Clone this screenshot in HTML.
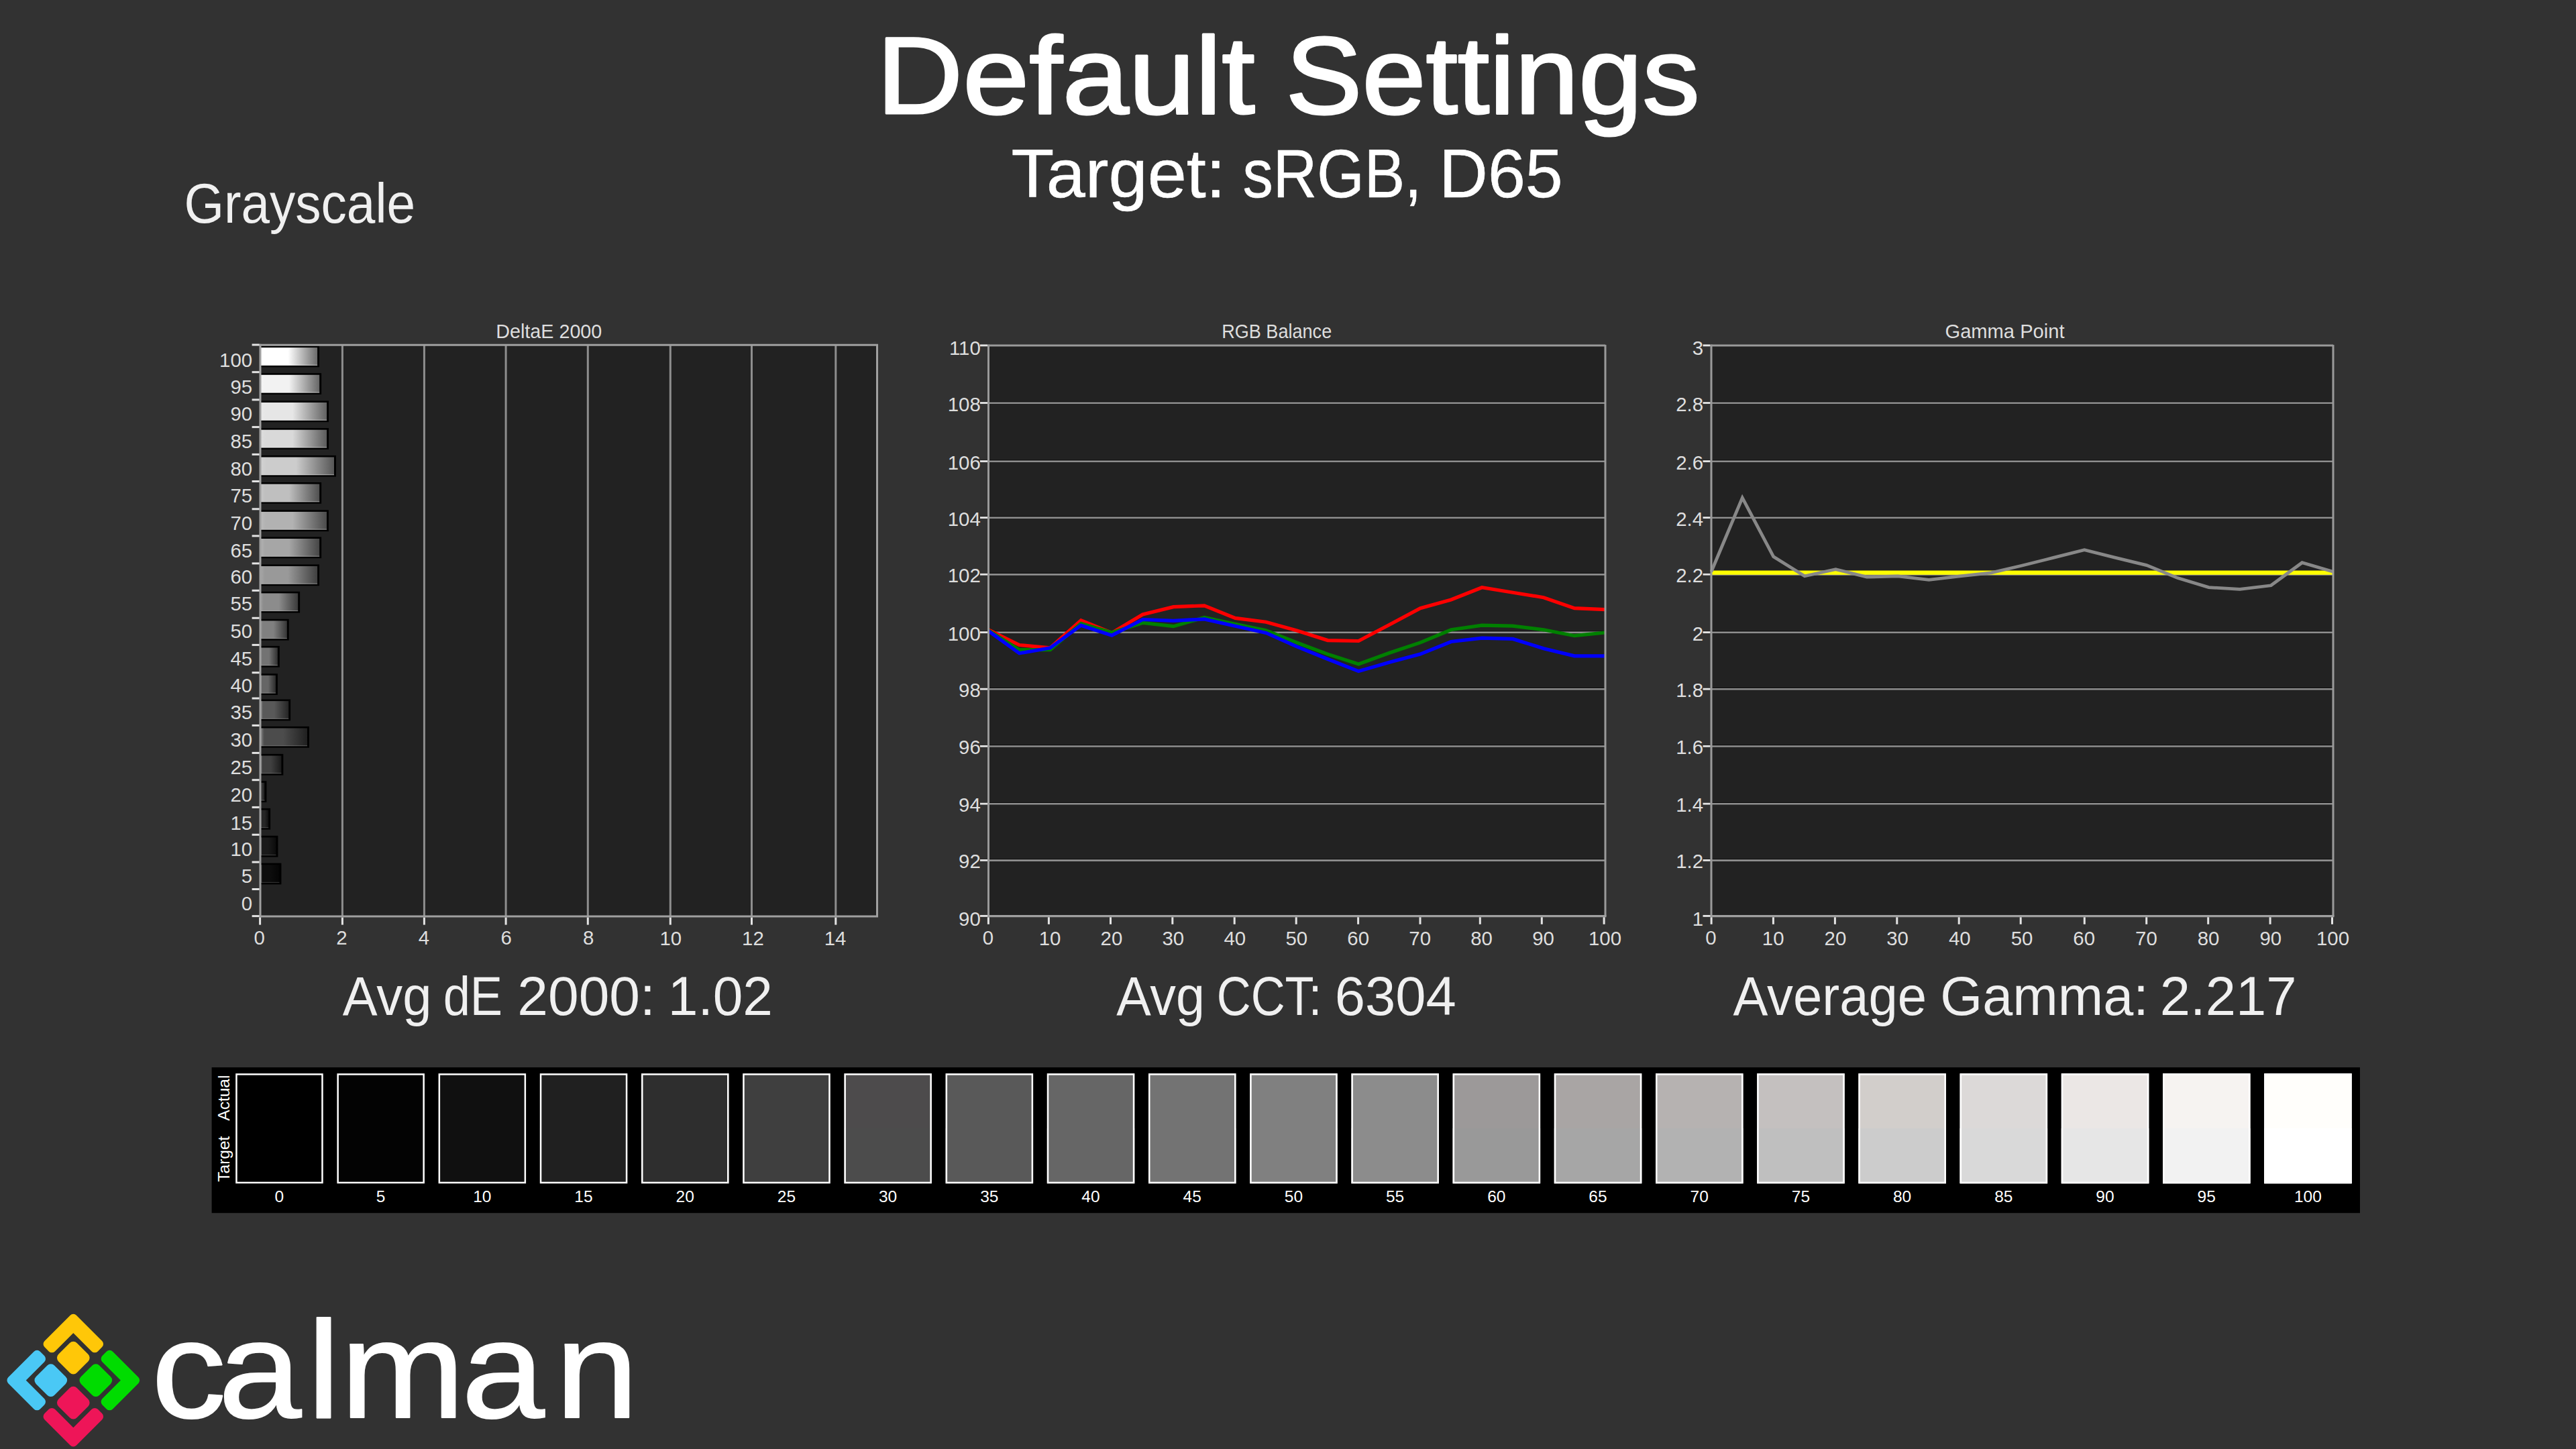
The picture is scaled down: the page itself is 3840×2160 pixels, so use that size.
<!DOCTYPE html>
<html lang="en"><head><meta charset="utf-8"><title>Default Settings - Grayscale</title>
<style>html,body{margin:0;padding:0;background:#323232;overflow:hidden}svg{display:block}text{font-family:"Liberation Sans",sans-serif}</style>
</head><body>
<svg width="3840" height="2160" viewBox="0 0 3840 2160">
<rect width="3840" height="2160" fill="#323232"/>
<g id="titles">
<text y="168.6" font-size="163.2" fill="#ffffff" stroke="#ffffff" stroke-width="3.0" stroke-linejoin="round"><tspan x="1306.70" textLength="563.90" lengthAdjust="spacingAndGlyphs">Default</tspan> <tspan x="1916.55" textLength="617.02" lengthAdjust="spacingAndGlyphs">Settings</tspan></text>
<text y="293.6" font-size="102.9" fill="#ffffff" stroke="#ffffff" stroke-width="0.6" stroke-linejoin="round"><tspan x="1507.55" textLength="319.18" lengthAdjust="spacingAndGlyphs">Target:</tspan> <tspan x="1852.58" textLength="266.66" lengthAdjust="spacingAndGlyphs">sRGB,</tspan> <tspan x="2145.36" textLength="184.26" lengthAdjust="spacingAndGlyphs">D65</tspan></text>
<text y="332.3" font-size="83.3" fill="#f0f0f0"><tspan x="274.45" textLength="344.55" lengthAdjust="spacingAndGlyphs">Grayscale</tspan></text>
</g>
<g id="chart-deltae">
<text x="818.3" y="504.3" font-size="30" text-anchor="middle" textLength="158.0" lengthAdjust="spacingAndGlyphs" fill="#dedede">DeltaE 2000</text>
<rect x="388.00" y="514.20" width="919.50" height="851.90" fill="#222222"/>
<line x1="510.40" y1="514.20" x2="510.40" y2="1366.10" stroke="#8e8e8e" stroke-width="3"/>
<line x1="632.40" y1="514.20" x2="632.40" y2="1366.10" stroke="#8e8e8e" stroke-width="3"/>
<line x1="754.10" y1="514.20" x2="754.10" y2="1366.10" stroke="#8e8e8e" stroke-width="3"/>
<line x1="876.30" y1="514.20" x2="876.30" y2="1366.10" stroke="#8e8e8e" stroke-width="3"/>
<line x1="999.30" y1="514.20" x2="999.30" y2="1366.10" stroke="#8e8e8e" stroke-width="3"/>
<line x1="1120.50" y1="514.20" x2="1120.50" y2="1366.10" stroke="#8e8e8e" stroke-width="3"/>
<line x1="1245.80" y1="514.20" x2="1245.80" y2="1366.10" stroke="#8e8e8e" stroke-width="3"/>
<defs>
<linearGradient id="bg0" x1="0" x2="1" y1="0" y2="0"><stop offset="0" stop-color="#4c4c4c"/><stop offset="0.07" stop-color="#000000"/><stop offset="0.48" stop-color="#000000"/><stop offset="1" stop-color="#000000"/></linearGradient>
<linearGradient id="bg5" x1="0" x2="1" y1="0" y2="0"><stop offset="0" stop-color="#565656"/><stop offset="0.07" stop-color="#0d0d0d"/><stop offset="0.48" stop-color="#0d0d0d"/><stop offset="1" stop-color="#050505"/></linearGradient>
<linearGradient id="bg10" x1="0" x2="1" y1="0" y2="0"><stop offset="0" stop-color="#5f5f5f"/><stop offset="0.07" stop-color="#1a1a1a"/><stop offset="0.48" stop-color="#1a1a1a"/><stop offset="1" stop-color="#0b0b0b"/></linearGradient>
<linearGradient id="bg15" x1="0" x2="1" y1="0" y2="0"><stop offset="0" stop-color="#676767"/><stop offset="0.07" stop-color="#262626"/><stop offset="0.48" stop-color="#262626"/><stop offset="1" stop-color="#101010"/></linearGradient>
<linearGradient id="bg20" x1="0" x2="1" y1="0" y2="0"><stop offset="0" stop-color="#707070"/><stop offset="0.07" stop-color="#333333"/><stop offset="0.48" stop-color="#333333"/><stop offset="1" stop-color="#151515"/></linearGradient>
<linearGradient id="bg25" x1="0" x2="1" y1="0" y2="0"><stop offset="0" stop-color="#797979"/><stop offset="0.07" stop-color="#404040"/><stop offset="0.48" stop-color="#404040"/><stop offset="1" stop-color="#1b1b1b"/></linearGradient>
<linearGradient id="bg30" x1="0" x2="1" y1="0" y2="0"><stop offset="0" stop-color="#828282"/><stop offset="0.07" stop-color="#4c4c4c"/><stop offset="0.48" stop-color="#4c4c4c"/><stop offset="1" stop-color="#202020"/></linearGradient>
<linearGradient id="bg35" x1="0" x2="1" y1="0" y2="0"><stop offset="0" stop-color="#8b8b8b"/><stop offset="0.07" stop-color="#595959"/><stop offset="0.48" stop-color="#595959"/><stop offset="1" stop-color="#252525"/></linearGradient>
<linearGradient id="bg40" x1="0" x2="1" y1="0" y2="0"><stop offset="0" stop-color="#949494"/><stop offset="0.07" stop-color="#666666"/><stop offset="0.48" stop-color="#666666"/><stop offset="1" stop-color="#2b2b2b"/></linearGradient>
<linearGradient id="bg45" x1="0" x2="1" y1="0" y2="0"><stop offset="0" stop-color="#848484"/><stop offset="0.07" stop-color="#737373"/><stop offset="0.48" stop-color="#737373"/><stop offset="1" stop-color="#303030"/></linearGradient>
<linearGradient id="bg50" x1="0" x2="1" y1="0" y2="0"><stop offset="0" stop-color="#8f8f8f"/><stop offset="0.07" stop-color="#808080"/><stop offset="0.48" stop-color="#808080"/><stop offset="1" stop-color="#363636"/></linearGradient>
<linearGradient id="bg55" x1="0" x2="1" y1="0" y2="0"><stop offset="0" stop-color="#9a9a9a"/><stop offset="0.07" stop-color="#8c8c8c"/><stop offset="0.48" stop-color="#8c8c8c"/><stop offset="1" stop-color="#3b3b3b"/></linearGradient>
<linearGradient id="bg60" x1="0" x2="1" y1="0" y2="0"><stop offset="0" stop-color="#a5a5a5"/><stop offset="0.07" stop-color="#999999"/><stop offset="0.48" stop-color="#999999"/><stop offset="1" stop-color="#404040"/></linearGradient>
<linearGradient id="bg65" x1="0" x2="1" y1="0" y2="0"><stop offset="0" stop-color="#b1b1b1"/><stop offset="0.07" stop-color="#a6a6a6"/><stop offset="0.48" stop-color="#a6a6a6"/><stop offset="1" stop-color="#464646"/></linearGradient>
<linearGradient id="bg70" x1="0" x2="1" y1="0" y2="0"><stop offset="0" stop-color="#bbbbbb"/><stop offset="0.07" stop-color="#b2b2b2"/><stop offset="0.48" stop-color="#b2b2b2"/><stop offset="1" stop-color="#4b4b4b"/></linearGradient>
<linearGradient id="bg75" x1="0" x2="1" y1="0" y2="0"><stop offset="0" stop-color="#c7c7c7"/><stop offset="0.07" stop-color="#bfbfbf"/><stop offset="0.48" stop-color="#bfbfbf"/><stop offset="1" stop-color="#505050"/></linearGradient>
<linearGradient id="bg80" x1="0" x2="1" y1="0" y2="0"><stop offset="0" stop-color="#d2d2d2"/><stop offset="0.07" stop-color="#cccccc"/><stop offset="0.48" stop-color="#cccccc"/><stop offset="1" stop-color="#565656"/></linearGradient>
<linearGradient id="bg85" x1="0" x2="1" y1="0" y2="0"><stop offset="0" stop-color="#dedede"/><stop offset="0.07" stop-color="#d9d9d9"/><stop offset="0.48" stop-color="#d9d9d9"/><stop offset="1" stop-color="#5b5b5b"/></linearGradient>
<linearGradient id="bg90" x1="0" x2="1" y1="0" y2="0"><stop offset="0" stop-color="#e9e9e9"/><stop offset="0.07" stop-color="#e6e6e6"/><stop offset="0.48" stop-color="#e6e6e6"/><stop offset="1" stop-color="#616161"/></linearGradient>
<linearGradient id="bg95" x1="0" x2="1" y1="0" y2="0"><stop offset="0" stop-color="#f4f4f4"/><stop offset="0.07" stop-color="#f2f2f2"/><stop offset="0.48" stop-color="#f2f2f2"/><stop offset="1" stop-color="#666666"/></linearGradient>
<linearGradient id="bg100" x1="0" x2="1" y1="0" y2="0"><stop offset="0" stop-color="#ffffff"/><stop offset="0.07" stop-color="#ffffff"/><stop offset="0.48" stop-color="#ffffff"/><stop offset="1" stop-color="#6b6b6b"/></linearGradient>
</defs>
<rect x="388.00" y="515.50" width="88.00" height="31.80" fill="#000"/>
<rect x="389.00" y="518.10" width="84.10" height="26.70" fill="url(#bg100)"/>
<rect x="389.00" y="543.80" width="84.10" height="1.00" fill="#ffffff" opacity="0.55"/>
<rect x="388.00" y="556.20" width="91.10" height="31.80" fill="#000"/>
<rect x="389.00" y="558.80" width="87.20" height="26.70" fill="url(#bg95)"/>
<rect x="389.00" y="584.50" width="87.20" height="1.00" fill="#ffffff" opacity="0.55"/>
<rect x="388.00" y="597.40" width="102.00" height="31.80" fill="#000"/>
<rect x="389.00" y="600.00" width="98.10" height="26.70" fill="url(#bg90)"/>
<rect x="389.00" y="625.70" width="98.10" height="1.00" fill="#f7f7f7" opacity="0.55"/>
<rect x="388.00" y="638.10" width="102.00" height="31.80" fill="#000"/>
<rect x="389.00" y="640.70" width="98.10" height="26.70" fill="url(#bg85)"/>
<rect x="389.00" y="666.40" width="98.10" height="1.00" fill="#eeeeee" opacity="0.55"/>
<rect x="388.00" y="678.90" width="112.90" height="31.80" fill="#000"/>
<rect x="389.00" y="681.50" width="109.00" height="26.70" fill="url(#bg80)"/>
<rect x="389.00" y="707.20" width="109.00" height="1.00" fill="#e5e5e5" opacity="0.55"/>
<rect x="388.00" y="719.00" width="91.10" height="31.80" fill="#000"/>
<rect x="389.00" y="721.60" width="87.20" height="26.70" fill="url(#bg75)"/>
<rect x="389.00" y="747.30" width="87.20" height="1.00" fill="#dcdcdc" opacity="0.55"/>
<rect x="388.00" y="760.30" width="101.90" height="31.80" fill="#000"/>
<rect x="389.00" y="762.90" width="98.00" height="26.70" fill="url(#bg70)"/>
<rect x="389.00" y="788.60" width="98.00" height="1.00" fill="#d3d3d3" opacity="0.55"/>
<rect x="388.00" y="800.40" width="91.10" height="31.80" fill="#000"/>
<rect x="389.00" y="803.00" width="87.20" height="26.70" fill="url(#bg65)"/>
<rect x="389.00" y="828.70" width="87.20" height="1.00" fill="#cacaca" opacity="0.55"/>
<rect x="388.00" y="841.40" width="88.00" height="31.80" fill="#000"/>
<rect x="389.00" y="844.00" width="84.10" height="26.70" fill="url(#bg60)"/>
<rect x="389.00" y="869.70" width="84.10" height="1.00" fill="#c1c1c1" opacity="0.55"/>
<rect x="388.00" y="881.80" width="59.10" height="31.80" fill="#000"/>
<rect x="389.00" y="884.40" width="55.20" height="26.70" fill="url(#bg55)"/>
<rect x="389.00" y="910.10" width="55.20" height="1.00" fill="#b8b8b8" opacity="0.55"/>
<rect x="388.00" y="922.80" width="42.70" height="31.80" fill="#000"/>
<rect x="389.00" y="925.40" width="38.80" height="26.70" fill="url(#bg50)"/>
<rect x="389.00" y="951.10" width="38.80" height="1.00" fill="#b0b0b0" opacity="0.55"/>
<rect x="388.00" y="962.90" width="28.80" height="31.80" fill="#000"/>
<rect x="389.00" y="965.50" width="24.90" height="26.70" fill="url(#bg45)"/>
<rect x="389.00" y="991.20" width="24.90" height="1.00" fill="#a7a7a7" opacity="0.55"/>
<rect x="388.00" y="1004.20" width="25.90" height="31.80" fill="#000"/>
<rect x="389.00" y="1006.80" width="22.00" height="26.70" fill="url(#bg40)"/>
<rect x="389.00" y="1032.50" width="22.00" height="1.00" fill="#9d9d9d" opacity="0.55"/>
<rect x="388.00" y="1042.50" width="45.10" height="31.80" fill="#000"/>
<rect x="389.00" y="1045.10" width="41.20" height="26.70" fill="url(#bg35)"/>
<rect x="389.00" y="1070.80" width="41.20" height="1.00" fill="#949494" opacity="0.55"/>
<rect x="388.00" y="1082.90" width="72.90" height="31.80" fill="#000"/>
<rect x="389.00" y="1085.50" width="69.00" height="26.70" fill="url(#bg30)"/>
<rect x="389.00" y="1111.20" width="69.00" height="1.00" fill="#8b8b8b" opacity="0.55"/>
<rect x="388.00" y="1123.90" width="34.30" height="31.80" fill="#000"/>
<rect x="389.00" y="1126.50" width="30.40" height="26.70" fill="url(#bg25)"/>
<rect x="389.00" y="1152.20" width="30.40" height="1.00" fill="#838383" opacity="0.55"/>
<rect x="388.00" y="1164.20" width="9.40" height="31.80" fill="#000"/>
<rect x="389.00" y="1166.80" width="5.50" height="26.70" fill="url(#bg20)"/>
<rect x="389.00" y="1192.50" width="5.50" height="1.00" fill="#7a7a7a" opacity="0.55"/>
<rect x="388.00" y="1204.90" width="15.10" height="31.80" fill="#000"/>
<rect x="389.00" y="1207.50" width="11.20" height="26.70" fill="url(#bg15)"/>
<rect x="389.00" y="1233.20" width="11.20" height="1.00" fill="#717171" opacity="0.55"/>
<rect x="388.00" y="1245.80" width="26.40" height="31.80" fill="#000"/>
<rect x="389.00" y="1248.40" width="22.50" height="26.70" fill="url(#bg10)"/>
<rect x="389.00" y="1274.10" width="22.50" height="1.00" fill="#686868" opacity="0.55"/>
<rect x="388.00" y="1286.60" width="31.40" height="31.80" fill="#000"/>
<rect x="389.00" y="1289.20" width="27.50" height="26.70" fill="url(#bg5)"/>
<rect x="389.00" y="1314.90" width="27.50" height="1.00" fill="#5f5f5f" opacity="0.55"/>
<line x1="386.50" y1="514.20" x2="1309.00" y2="514.20" stroke="#a0a0a0" stroke-width="3"/>
<line x1="1307.50" y1="514.20" x2="1307.50" y2="1366.10" stroke="#a0a0a0" stroke-width="3"/>
<line x1="388.00" y1="512.70" x2="388.00" y2="1367.60" stroke="#a0a0a0" stroke-width="3"/>
<line x1="386.50" y1="1366.10" x2="1309.00" y2="1366.10" stroke="#a0a0a0" stroke-width="3"/>
<line x1="375.60" y1="514.00" x2="386.60" y2="514.00" stroke="#e4e4e4" stroke-width="3"/>
<line x1="375.60" y1="554.70" x2="386.60" y2="554.70" stroke="#e4e4e4" stroke-width="3"/>
<line x1="375.60" y1="595.90" x2="386.60" y2="595.90" stroke="#e4e4e4" stroke-width="3"/>
<line x1="375.60" y1="636.60" x2="386.60" y2="636.60" stroke="#e4e4e4" stroke-width="3"/>
<line x1="375.60" y1="677.40" x2="386.60" y2="677.40" stroke="#e4e4e4" stroke-width="3"/>
<line x1="375.60" y1="717.50" x2="386.60" y2="717.50" stroke="#e4e4e4" stroke-width="3"/>
<line x1="375.60" y1="758.80" x2="386.60" y2="758.80" stroke="#e4e4e4" stroke-width="3"/>
<line x1="375.60" y1="798.90" x2="386.60" y2="798.90" stroke="#e4e4e4" stroke-width="3"/>
<line x1="375.60" y1="839.90" x2="386.60" y2="839.90" stroke="#e4e4e4" stroke-width="3"/>
<line x1="375.60" y1="880.30" x2="386.60" y2="880.30" stroke="#e4e4e4" stroke-width="3"/>
<line x1="375.60" y1="921.30" x2="386.60" y2="921.30" stroke="#e4e4e4" stroke-width="3"/>
<line x1="375.60" y1="961.40" x2="386.60" y2="961.40" stroke="#e4e4e4" stroke-width="3"/>
<line x1="375.60" y1="1002.70" x2="386.60" y2="1002.70" stroke="#e4e4e4" stroke-width="3"/>
<line x1="375.60" y1="1041.00" x2="386.60" y2="1041.00" stroke="#e4e4e4" stroke-width="3"/>
<line x1="375.60" y1="1081.40" x2="386.60" y2="1081.40" stroke="#e4e4e4" stroke-width="3"/>
<line x1="375.60" y1="1122.40" x2="386.60" y2="1122.40" stroke="#e4e4e4" stroke-width="3"/>
<line x1="375.60" y1="1162.70" x2="386.60" y2="1162.70" stroke="#e4e4e4" stroke-width="3"/>
<line x1="375.60" y1="1203.40" x2="386.60" y2="1203.40" stroke="#e4e4e4" stroke-width="3"/>
<line x1="375.60" y1="1244.30" x2="386.60" y2="1244.30" stroke="#e4e4e4" stroke-width="3"/>
<line x1="375.60" y1="1285.10" x2="386.60" y2="1285.10" stroke="#e4e4e4" stroke-width="3"/>
<line x1="375.60" y1="1325.50" x2="386.60" y2="1325.50" stroke="#e4e4e4" stroke-width="3"/>
<line x1="375.60" y1="1365.60" x2="386.60" y2="1365.60" stroke="#e4e4e4" stroke-width="3"/>
<text x="376.2" y="546.9" font-size="30" text-anchor="end" textLength="49.1" lengthAdjust="spacingAndGlyphs" fill="#dedede">100</text>
<text x="376.2" y="587.1" font-size="30" text-anchor="end" textLength="32.7" lengthAdjust="spacingAndGlyphs" fill="#dedede">95</text>
<text x="376.2" y="627.3" font-size="30" text-anchor="end" textLength="32.7" lengthAdjust="spacingAndGlyphs" fill="#dedede">90</text>
<text x="376.2" y="668.0" font-size="30" text-anchor="end" textLength="32.7" lengthAdjust="spacingAndGlyphs" fill="#dedede">85</text>
<text x="376.2" y="709.3" font-size="30" text-anchor="end" textLength="32.7" lengthAdjust="spacingAndGlyphs" fill="#dedede">80</text>
<text x="376.2" y="748.9" font-size="30" text-anchor="end" textLength="32.7" lengthAdjust="spacingAndGlyphs" fill="#dedede">75</text>
<text x="376.2" y="790.2" font-size="30" text-anchor="end" textLength="32.7" lengthAdjust="spacingAndGlyphs" fill="#dedede">70</text>
<text x="376.2" y="830.8" font-size="30" text-anchor="end" textLength="32.7" lengthAdjust="spacingAndGlyphs" fill="#dedede">65</text>
<text x="376.2" y="869.7" font-size="30" text-anchor="end" textLength="32.7" lengthAdjust="spacingAndGlyphs" fill="#dedede">60</text>
<text x="376.2" y="910.4" font-size="30" text-anchor="end" textLength="32.7" lengthAdjust="spacingAndGlyphs" fill="#dedede">55</text>
<text x="376.2" y="951.1" font-size="30" text-anchor="end" textLength="32.7" lengthAdjust="spacingAndGlyphs" fill="#dedede">50</text>
<text x="376.2" y="991.6" font-size="30" text-anchor="end" textLength="32.7" lengthAdjust="spacingAndGlyphs" fill="#dedede">45</text>
<text x="376.2" y="1032.1" font-size="30" text-anchor="end" textLength="32.7" lengthAdjust="spacingAndGlyphs" fill="#dedede">40</text>
<text x="376.2" y="1072.0" font-size="30" text-anchor="end" textLength="32.7" lengthAdjust="spacingAndGlyphs" fill="#dedede">35</text>
<text x="376.2" y="1112.8" font-size="30" text-anchor="end" textLength="32.7" lengthAdjust="spacingAndGlyphs" fill="#dedede">30</text>
<text x="376.2" y="1153.8" font-size="30" text-anchor="end" textLength="32.7" lengthAdjust="spacingAndGlyphs" fill="#dedede">25</text>
<text x="376.2" y="1194.7" font-size="30" text-anchor="end" textLength="32.7" lengthAdjust="spacingAndGlyphs" fill="#dedede">20</text>
<text x="376.2" y="1236.5" font-size="30" text-anchor="end" textLength="32.7" lengthAdjust="spacingAndGlyphs" fill="#dedede">15</text>
<text x="376.2" y="1276.1" font-size="30" text-anchor="end" textLength="32.7" lengthAdjust="spacingAndGlyphs" fill="#dedede">10</text>
<text x="376.2" y="1315.7" font-size="30" text-anchor="end" fill="#dedede" transform="translate(376.20,0) scale(0.98,1) translate(-376.20,0)">5</text>
<text x="376.2" y="1356.8" font-size="30" text-anchor="end" fill="#dedede" transform="translate(376.20,0) scale(0.98,1) translate(-376.20,0)">0</text>
<line x1="387.60" y1="1367.60" x2="387.60" y2="1378.60" stroke="#e4e4e4" stroke-width="3"/>
<text x="386.8" y="1408.5" font-size="30" text-anchor="middle" fill="#dedede" transform="translate(386.80,0) scale(0.98,1) translate(-386.80,0)">0</text>
<line x1="510.40" y1="1367.60" x2="510.40" y2="1378.60" stroke="#e4e4e4" stroke-width="3"/>
<text x="509.4" y="1408.5" font-size="30" text-anchor="middle" fill="#dedede" transform="translate(509.40,0) scale(0.98,1) translate(-509.40,0)">2</text>
<line x1="632.40" y1="1367.60" x2="632.40" y2="1378.60" stroke="#e4e4e4" stroke-width="3"/>
<text x="632.0" y="1408.5" font-size="30" text-anchor="middle" fill="#dedede" transform="translate(632.00,0) scale(0.98,1) translate(-632.00,0)">4</text>
<line x1="754.10" y1="1367.60" x2="754.10" y2="1378.60" stroke="#e4e4e4" stroke-width="3"/>
<text x="754.6" y="1408.5" font-size="30" text-anchor="middle" fill="#dedede" transform="translate(754.60,0) scale(0.98,1) translate(-754.60,0)">6</text>
<line x1="876.30" y1="1367.60" x2="876.30" y2="1378.60" stroke="#e4e4e4" stroke-width="3"/>
<text x="877.2" y="1408.5" font-size="30" text-anchor="middle" fill="#dedede" transform="translate(877.20,0) scale(0.98,1) translate(-877.20,0)">8</text>
<line x1="999.30" y1="1367.60" x2="999.30" y2="1378.60" stroke="#e4e4e4" stroke-width="3"/>
<text x="999.8" y="1408.5" font-size="30" text-anchor="middle" textLength="32.7" lengthAdjust="spacingAndGlyphs" fill="#dedede">10</text>
<line x1="1120.50" y1="1367.60" x2="1120.50" y2="1378.60" stroke="#e4e4e4" stroke-width="3"/>
<text x="1122.4" y="1408.5" font-size="30" text-anchor="middle" textLength="32.7" lengthAdjust="spacingAndGlyphs" fill="#dedede">12</text>
<line x1="1245.80" y1="1367.60" x2="1245.80" y2="1378.60" stroke="#e4e4e4" stroke-width="3"/>
<text x="1245.0" y="1408.5" font-size="30" text-anchor="middle" textLength="32.7" lengthAdjust="spacingAndGlyphs" fill="#dedede">14</text>
</g>
<g id="chart-rgb">
<text x="1903.2" y="504.3" font-size="30" text-anchor="middle" textLength="164.0" lengthAdjust="spacingAndGlyphs" fill="#dedede">RGB Balance</text>
<rect x="1473.50" y="515.10" width="919.50" height="850.50" fill="#222222"/>
<line x1="1473.50" y1="515.10" x2="2393.00" y2="515.10" stroke="#9a9a9a" stroke-width="3"/>
<line x1="1461.50" y1="598.95" x2="2393.00" y2="598.95" stroke="#0b0b0b" stroke-width="0.9"/>
<line x1="1473.50" y1="600.80" x2="2393.00" y2="600.80" stroke="#8e8e8e" stroke-width="2.6"/>
<line x1="1461.50" y1="685.95" x2="2393.00" y2="685.95" stroke="#0b0b0b" stroke-width="0.9"/>
<line x1="1473.50" y1="687.80" x2="2393.00" y2="687.80" stroke="#8e8e8e" stroke-width="2.6"/>
<line x1="1461.50" y1="769.95" x2="2393.00" y2="769.95" stroke="#0b0b0b" stroke-width="0.9"/>
<line x1="1473.50" y1="771.80" x2="2393.00" y2="771.80" stroke="#8e8e8e" stroke-width="2.6"/>
<line x1="1461.50" y1="854.55" x2="2393.00" y2="854.55" stroke="#0b0b0b" stroke-width="0.9"/>
<line x1="1473.50" y1="856.40" x2="2393.00" y2="856.40" stroke="#8e8e8e" stroke-width="2.6"/>
<line x1="1461.50" y1="940.95" x2="2393.00" y2="940.95" stroke="#0b0b0b" stroke-width="0.9"/>
<line x1="1473.50" y1="942.80" x2="2393.00" y2="942.80" stroke="#8e8e8e" stroke-width="2.6"/>
<line x1="1461.50" y1="1025.45" x2="2393.00" y2="1025.45" stroke="#0b0b0b" stroke-width="0.9"/>
<line x1="1473.50" y1="1027.30" x2="2393.00" y2="1027.30" stroke="#8e8e8e" stroke-width="2.6"/>
<line x1="1461.50" y1="1110.65" x2="2393.00" y2="1110.65" stroke="#0b0b0b" stroke-width="0.9"/>
<line x1="1473.50" y1="1112.50" x2="2393.00" y2="1112.50" stroke="#8e8e8e" stroke-width="2.6"/>
<line x1="1461.50" y1="1196.45" x2="2393.00" y2="1196.45" stroke="#0b0b0b" stroke-width="0.9"/>
<line x1="1473.50" y1="1198.30" x2="2393.00" y2="1198.30" stroke="#8e8e8e" stroke-width="2.6"/>
<line x1="1461.50" y1="1280.75" x2="2393.00" y2="1280.75" stroke="#0b0b0b" stroke-width="0.9"/>
<line x1="1473.50" y1="1282.60" x2="2393.00" y2="1282.60" stroke="#8e8e8e" stroke-width="2.6"/>
<clipPath id="cp2"><rect x="1471.5" y="515.1" width="922.5" height="850.4999999999999"/></clipPath><g clip-path="url(#cp2)">
<polyline points="1473.5,938.8 1519.5,961.5 1565.5,965.8 1611.4,924.8 1657.4,943.4 1703.4,916.0 1749.3,904.7 1795.3,902.8 1841.3,921.4 1887.3,927.2 1933.2,940.0 1979.2,954.6 2025.2,955.5 2071.2,931.3 2117.2,906.7 2163.1,894.0 2209.1,875.8 2255.1,883.2 2301.1,890.7 2347.0,906.7 2393.0,908.6" fill="none" stroke="#ff0000" stroke-width="5.2" stroke-linejoin="miter" stroke-linecap="butt"/>
<polyline points="1473.5,939.7 1519.5,968.6 1565.5,968.6 1611.4,929.4 1657.4,943.0 1703.4,928.5 1749.3,933.7 1795.3,920.5 1841.3,930.4 1887.3,939.7 1933.2,958.0 1979.2,975.1 2025.2,990.0 2071.2,973.2 2117.2,957.9 2163.1,938.8 2209.1,932.2 2255.1,933.2 2301.1,938.8 2347.0,947.7 2393.0,943.0" fill="none" stroke="#008000" stroke-width="5.2" stroke-linejoin="miter" stroke-linecap="butt"/>
<polyline points="1473.5,940.6 1519.5,973.8 1565.5,965.8 1611.4,932.2 1657.4,947.1 1703.4,923.5 1749.3,925.3 1795.3,922.9 1841.3,933.2 1887.3,943.4 1933.2,963.8 1979.2,982.5 2025.2,1000.6 2071.2,987.2 2117.2,975.1 2163.1,956.5 2209.1,951.2 2255.1,952.4 2301.1,966.7 2347.0,977.9 2393.0,977.9" fill="none" stroke="#0000ff" stroke-width="5.2" stroke-linejoin="miter" stroke-linecap="butt"/>
</g>
<line x1="2393.00" y1="514.10" x2="2393.00" y2="1365.60" stroke="#9a9a9a" stroke-width="3"/>
<line x1="1473.50" y1="513.60" x2="1473.50" y2="1367.10" stroke="#9a9a9a" stroke-width="3"/>
<line x1="1472.00" y1="1365.60" x2="2394.50" y2="1365.60" stroke="#a0a0a0" stroke-width="3.4"/>
<line x1="1461.00" y1="514.90" x2="1472.00" y2="514.90" stroke="#e4e4e4" stroke-width="2.9"/>
<text x="1461.8" y="528.7" font-size="30" text-anchor="end" textLength="46.9" lengthAdjust="spacingAndGlyphs" fill="#dedede">110</text>
<line x1="1461.00" y1="600.60" x2="1472.00" y2="600.60" stroke="#e4e4e4" stroke-width="2.9"/>
<text x="1461.8" y="612.6" font-size="30" text-anchor="end" textLength="49.1" lengthAdjust="spacingAndGlyphs" fill="#dedede">108</text>
<line x1="1461.00" y1="687.60" x2="1472.00" y2="687.60" stroke="#e4e4e4" stroke-width="2.9"/>
<text x="1461.8" y="699.6" font-size="30" text-anchor="end" textLength="49.1" lengthAdjust="spacingAndGlyphs" fill="#dedede">106</text>
<line x1="1461.00" y1="771.60" x2="1472.00" y2="771.60" stroke="#e4e4e4" stroke-width="2.9"/>
<text x="1461.8" y="783.6" font-size="30" text-anchor="end" textLength="49.1" lengthAdjust="spacingAndGlyphs" fill="#dedede">104</text>
<line x1="1461.00" y1="856.20" x2="1472.00" y2="856.20" stroke="#e4e4e4" stroke-width="2.9"/>
<text x="1461.8" y="868.2" font-size="30" text-anchor="end" textLength="49.1" lengthAdjust="spacingAndGlyphs" fill="#dedede">102</text>
<line x1="1461.00" y1="942.60" x2="1472.00" y2="942.60" stroke="#e4e4e4" stroke-width="2.9"/>
<text x="1461.8" y="954.6" font-size="30" text-anchor="end" textLength="49.1" lengthAdjust="spacingAndGlyphs" fill="#dedede">100</text>
<line x1="1461.00" y1="1027.10" x2="1472.00" y2="1027.10" stroke="#e4e4e4" stroke-width="2.9"/>
<text x="1461.8" y="1039.1" font-size="30" text-anchor="end" textLength="32.7" lengthAdjust="spacingAndGlyphs" fill="#dedede">98</text>
<line x1="1461.00" y1="1112.30" x2="1472.00" y2="1112.30" stroke="#e4e4e4" stroke-width="2.9"/>
<text x="1461.8" y="1124.3" font-size="30" text-anchor="end" textLength="32.7" lengthAdjust="spacingAndGlyphs" fill="#dedede">96</text>
<line x1="1461.00" y1="1198.10" x2="1472.00" y2="1198.10" stroke="#e4e4e4" stroke-width="2.9"/>
<text x="1461.8" y="1210.1" font-size="30" text-anchor="end" textLength="32.7" lengthAdjust="spacingAndGlyphs" fill="#dedede">94</text>
<line x1="1461.00" y1="1282.40" x2="1472.00" y2="1282.40" stroke="#e4e4e4" stroke-width="2.9"/>
<text x="1461.8" y="1294.4" font-size="30" text-anchor="end" textLength="32.7" lengthAdjust="spacingAndGlyphs" fill="#dedede">92</text>
<line x1="1461.00" y1="1365.40" x2="1472.00" y2="1365.40" stroke="#e4e4e4" stroke-width="2.9"/>
<text x="1461.8" y="1380.2" font-size="30" text-anchor="end" textLength="32.7" lengthAdjust="spacingAndGlyphs" fill="#dedede">90</text>
<line x1="1473.40" y1="1367.30" x2="1473.40" y2="1377.80" stroke="#e4e4e4" stroke-width="3"/>
<text x="1473.0" y="1408.5" font-size="30" text-anchor="middle" fill="#dedede" transform="translate(1473.00,0) scale(0.98,1) translate(-1473.00,0)">0</text>
<line x1="1563.40" y1="1367.30" x2="1563.40" y2="1377.80" stroke="#e4e4e4" stroke-width="3"/>
<text x="1565.0" y="1408.5" font-size="30" text-anchor="middle" textLength="32.7" lengthAdjust="spacingAndGlyphs" fill="#dedede">10</text>
<line x1="1655.50" y1="1367.30" x2="1655.50" y2="1377.80" stroke="#e4e4e4" stroke-width="3"/>
<text x="1656.9" y="1408.5" font-size="30" text-anchor="middle" textLength="32.7" lengthAdjust="spacingAndGlyphs" fill="#dedede">20</text>
<line x1="1747.80" y1="1367.30" x2="1747.80" y2="1377.80" stroke="#e4e4e4" stroke-width="3"/>
<text x="1748.8" y="1408.5" font-size="30" text-anchor="middle" textLength="32.7" lengthAdjust="spacingAndGlyphs" fill="#dedede">30</text>
<line x1="1840.20" y1="1367.30" x2="1840.20" y2="1377.80" stroke="#e4e4e4" stroke-width="3"/>
<text x="1840.8" y="1408.5" font-size="30" text-anchor="middle" textLength="32.7" lengthAdjust="spacingAndGlyphs" fill="#dedede">40</text>
<line x1="1932.20" y1="1367.30" x2="1932.20" y2="1377.80" stroke="#e4e4e4" stroke-width="3"/>
<text x="1932.8" y="1408.5" font-size="30" text-anchor="middle" textLength="32.7" lengthAdjust="spacingAndGlyphs" fill="#dedede">50</text>
<line x1="2024.60" y1="1367.30" x2="2024.60" y2="1377.80" stroke="#e4e4e4" stroke-width="3"/>
<text x="2024.7" y="1408.5" font-size="30" text-anchor="middle" textLength="32.7" lengthAdjust="spacingAndGlyphs" fill="#dedede">60</text>
<line x1="2117.00" y1="1367.30" x2="2117.00" y2="1377.80" stroke="#e4e4e4" stroke-width="3"/>
<text x="2116.7" y="1408.5" font-size="30" text-anchor="middle" textLength="32.7" lengthAdjust="spacingAndGlyphs" fill="#dedede">70</text>
<line x1="2206.30" y1="1367.30" x2="2206.30" y2="1377.80" stroke="#e4e4e4" stroke-width="3"/>
<text x="2208.6" y="1408.5" font-size="30" text-anchor="middle" textLength="32.7" lengthAdjust="spacingAndGlyphs" fill="#dedede">80</text>
<line x1="2298.30" y1="1367.30" x2="2298.30" y2="1377.80" stroke="#e4e4e4" stroke-width="3"/>
<text x="2300.6" y="1408.5" font-size="30" text-anchor="middle" textLength="32.7" lengthAdjust="spacingAndGlyphs" fill="#dedede">90</text>
<line x1="2391.10" y1="1367.30" x2="2391.10" y2="1377.80" stroke="#e4e4e4" stroke-width="3"/>
<text x="2392.5" y="1408.5" font-size="30" text-anchor="middle" textLength="49.1" lengthAdjust="spacingAndGlyphs" fill="#dedede">100</text>
</g>
<g id="chart-gamma">
<text x="2988.5" y="504.3" font-size="30" text-anchor="middle" textLength="178.0" lengthAdjust="spacingAndGlyphs" fill="#dedede">Gamma Point</text>
<rect x="2551.00" y="515.10" width="927.00" height="850.50" fill="#222222"/>
<line x1="2551.00" y1="515.10" x2="3478.00" y2="515.10" stroke="#9a9a9a" stroke-width="3"/>
<line x1="2539.00" y1="598.95" x2="3478.00" y2="598.95" stroke="#0b0b0b" stroke-width="0.9"/>
<line x1="2551.00" y1="600.80" x2="3478.00" y2="600.80" stroke="#8e8e8e" stroke-width="2.6"/>
<line x1="2539.00" y1="685.95" x2="3478.00" y2="685.95" stroke="#0b0b0b" stroke-width="0.9"/>
<line x1="2551.00" y1="687.80" x2="3478.00" y2="687.80" stroke="#8e8e8e" stroke-width="2.6"/>
<line x1="2539.00" y1="769.95" x2="3478.00" y2="769.95" stroke="#0b0b0b" stroke-width="0.9"/>
<line x1="2551.00" y1="771.80" x2="3478.00" y2="771.80" stroke="#8e8e8e" stroke-width="2.6"/>
<line x1="2539.00" y1="854.55" x2="3478.00" y2="854.55" stroke="#0b0b0b" stroke-width="0.9"/>
<line x1="2551.00" y1="856.40" x2="3478.00" y2="856.40" stroke="#8e8e8e" stroke-width="2.6"/>
<line x1="2539.00" y1="940.95" x2="3478.00" y2="940.95" stroke="#0b0b0b" stroke-width="0.9"/>
<line x1="2551.00" y1="942.80" x2="3478.00" y2="942.80" stroke="#8e8e8e" stroke-width="2.6"/>
<line x1="2539.00" y1="1025.45" x2="3478.00" y2="1025.45" stroke="#0b0b0b" stroke-width="0.9"/>
<line x1="2551.00" y1="1027.30" x2="3478.00" y2="1027.30" stroke="#8e8e8e" stroke-width="2.6"/>
<line x1="2539.00" y1="1110.65" x2="3478.00" y2="1110.65" stroke="#0b0b0b" stroke-width="0.9"/>
<line x1="2551.00" y1="1112.50" x2="3478.00" y2="1112.50" stroke="#8e8e8e" stroke-width="2.6"/>
<line x1="2539.00" y1="1196.45" x2="3478.00" y2="1196.45" stroke="#0b0b0b" stroke-width="0.9"/>
<line x1="2551.00" y1="1198.30" x2="3478.00" y2="1198.30" stroke="#8e8e8e" stroke-width="2.6"/>
<line x1="2539.00" y1="1280.75" x2="3478.00" y2="1280.75" stroke="#0b0b0b" stroke-width="0.9"/>
<line x1="2551.00" y1="1282.60" x2="3478.00" y2="1282.60" stroke="#8e8e8e" stroke-width="2.6"/>
<clipPath id="cp3"><rect x="2549.0" y="515.1" width="930.0" height="850.4999999999999"/></clipPath><g clip-path="url(#cp3)">
<line x1="2551.00" y1="853.60" x2="3478.00" y2="853.60" stroke="#ffff00" stroke-width="6.4"/>
<polyline points="2551.0,852.3 2597.3,742.0 2643.7,829.9 2690.1,858.8 2736.4,848.6 2782.8,860.1 2829.1,858.8 2875.4,864.4 2921.8,858.8 2968.2,853.8 3014.5,843.0 3060.8,831.4 3107.2,819.7 3153.6,831.4 3199.9,842.6 3246.2,861.6 3292.6,875.6 3338.9,878.4 3385.3,872.8 3431.7,838.7 3478.0,852.3" fill="none" stroke="#888888" stroke-width="4.8" stroke-linejoin="miter" stroke-linecap="butt"/>
</g>
<line x1="3478.00" y1="514.10" x2="3478.00" y2="1365.60" stroke="#9a9a9a" stroke-width="3"/>
<line x1="2551.00" y1="513.60" x2="2551.00" y2="1367.10" stroke="#9a9a9a" stroke-width="3"/>
<line x1="2549.50" y1="1365.60" x2="3479.50" y2="1365.60" stroke="#a0a0a0" stroke-width="3.4"/>
<line x1="2538.50" y1="514.90" x2="2549.50" y2="514.90" stroke="#e4e4e4" stroke-width="2.9"/>
<text x="2539.1" y="528.7" font-size="30" text-anchor="end" fill="#dedede" transform="translate(2539.10,0) scale(0.98,1) translate(-2539.10,0)">3</text>
<line x1="2538.50" y1="600.60" x2="2549.50" y2="600.60" stroke="#e4e4e4" stroke-width="2.9"/>
<text x="2539.1" y="612.6" font-size="30" text-anchor="end" textLength="40.9" lengthAdjust="spacingAndGlyphs" fill="#dedede">2.8</text>
<line x1="2538.50" y1="687.60" x2="2549.50" y2="687.60" stroke="#e4e4e4" stroke-width="2.9"/>
<text x="2539.1" y="699.6" font-size="30" text-anchor="end" textLength="40.9" lengthAdjust="spacingAndGlyphs" fill="#dedede">2.6</text>
<line x1="2538.50" y1="771.60" x2="2549.50" y2="771.60" stroke="#e4e4e4" stroke-width="2.9"/>
<text x="2539.1" y="783.6" font-size="30" text-anchor="end" textLength="40.9" lengthAdjust="spacingAndGlyphs" fill="#dedede">2.4</text>
<line x1="2538.50" y1="856.20" x2="2549.50" y2="856.20" stroke="#e4e4e4" stroke-width="2.9"/>
<text x="2539.1" y="868.2" font-size="30" text-anchor="end" textLength="40.9" lengthAdjust="spacingAndGlyphs" fill="#dedede">2.2</text>
<line x1="2538.50" y1="942.60" x2="2549.50" y2="942.60" stroke="#e4e4e4" stroke-width="2.9"/>
<text x="2539.1" y="954.6" font-size="30" text-anchor="end" fill="#dedede" transform="translate(2539.10,0) scale(0.98,1) translate(-2539.10,0)">2</text>
<line x1="2538.50" y1="1027.10" x2="2549.50" y2="1027.10" stroke="#e4e4e4" stroke-width="2.9"/>
<text x="2539.1" y="1039.1" font-size="30" text-anchor="end" textLength="40.9" lengthAdjust="spacingAndGlyphs" fill="#dedede">1.8</text>
<line x1="2538.50" y1="1112.30" x2="2549.50" y2="1112.30" stroke="#e4e4e4" stroke-width="2.9"/>
<text x="2539.1" y="1124.3" font-size="30" text-anchor="end" textLength="40.9" lengthAdjust="spacingAndGlyphs" fill="#dedede">1.6</text>
<line x1="2538.50" y1="1198.10" x2="2549.50" y2="1198.10" stroke="#e4e4e4" stroke-width="2.9"/>
<text x="2539.1" y="1210.1" font-size="30" text-anchor="end" textLength="40.9" lengthAdjust="spacingAndGlyphs" fill="#dedede">1.4</text>
<line x1="2538.50" y1="1282.40" x2="2549.50" y2="1282.40" stroke="#e4e4e4" stroke-width="2.9"/>
<text x="2539.1" y="1294.4" font-size="30" text-anchor="end" textLength="40.9" lengthAdjust="spacingAndGlyphs" fill="#dedede">1.2</text>
<line x1="2538.50" y1="1365.40" x2="2549.50" y2="1365.40" stroke="#e4e4e4" stroke-width="2.9"/>
<text x="2539.1" y="1380.2" font-size="30" text-anchor="end" fill="#dedede" transform="translate(2539.10,0) scale(0.98,1) translate(-2539.10,0)">1</text>
<line x1="2551.10" y1="1367.30" x2="2551.10" y2="1377.80" stroke="#e4e4e4" stroke-width="3"/>
<text x="2550.5" y="1408.5" font-size="30" text-anchor="middle" fill="#dedede" transform="translate(2550.50,0) scale(0.98,1) translate(-2550.50,0)">0</text>
<line x1="2643.40" y1="1367.30" x2="2643.40" y2="1377.80" stroke="#e4e4e4" stroke-width="3"/>
<text x="2643.2" y="1408.5" font-size="30" text-anchor="middle" textLength="32.7" lengthAdjust="spacingAndGlyphs" fill="#dedede">10</text>
<line x1="2735.40" y1="1367.30" x2="2735.40" y2="1377.80" stroke="#e4e4e4" stroke-width="3"/>
<text x="2735.9" y="1408.5" font-size="30" text-anchor="middle" textLength="32.7" lengthAdjust="spacingAndGlyphs" fill="#dedede">20</text>
<line x1="2827.80" y1="1367.30" x2="2827.80" y2="1377.80" stroke="#e4e4e4" stroke-width="3"/>
<text x="2828.6" y="1408.5" font-size="30" text-anchor="middle" textLength="32.7" lengthAdjust="spacingAndGlyphs" fill="#dedede">30</text>
<line x1="2920.20" y1="1367.30" x2="2920.20" y2="1377.80" stroke="#e4e4e4" stroke-width="3"/>
<text x="2921.3" y="1408.5" font-size="30" text-anchor="middle" textLength="32.7" lengthAdjust="spacingAndGlyphs" fill="#dedede">40</text>
<line x1="3012.20" y1="1367.30" x2="3012.20" y2="1377.80" stroke="#e4e4e4" stroke-width="3"/>
<text x="3014.0" y="1408.5" font-size="30" text-anchor="middle" textLength="32.7" lengthAdjust="spacingAndGlyphs" fill="#dedede">50</text>
<line x1="3107.30" y1="1367.30" x2="3107.30" y2="1377.80" stroke="#e4e4e4" stroke-width="3"/>
<text x="3106.7" y="1408.5" font-size="30" text-anchor="middle" textLength="32.7" lengthAdjust="spacingAndGlyphs" fill="#dedede">60</text>
<line x1="3199.70" y1="1367.30" x2="3199.70" y2="1377.80" stroke="#e4e4e4" stroke-width="3"/>
<text x="3199.4" y="1408.5" font-size="30" text-anchor="middle" textLength="32.7" lengthAdjust="spacingAndGlyphs" fill="#dedede">70</text>
<line x1="3291.70" y1="1367.30" x2="3291.70" y2="1377.80" stroke="#e4e4e4" stroke-width="3"/>
<text x="3292.1" y="1408.5" font-size="30" text-anchor="middle" textLength="32.7" lengthAdjust="spacingAndGlyphs" fill="#dedede">80</text>
<line x1="3384.10" y1="1367.30" x2="3384.10" y2="1377.80" stroke="#e4e4e4" stroke-width="3"/>
<text x="3384.8" y="1408.5" font-size="30" text-anchor="middle" textLength="32.7" lengthAdjust="spacingAndGlyphs" fill="#dedede">90</text>
<line x1="3476.50" y1="1367.30" x2="3476.50" y2="1377.80" stroke="#e4e4e4" stroke-width="3"/>
<text x="3477.5" y="1408.5" font-size="30" text-anchor="middle" textLength="49.1" lengthAdjust="spacingAndGlyphs" fill="#dedede">100</text>
</g>
<g id="stats">
<text y="1513.0" font-size="82" fill="#f0f0f0"><tspan x="510.85" textLength="132.56" lengthAdjust="spacingAndGlyphs">Avg</tspan> <tspan x="660.66" textLength="88.44" lengthAdjust="spacingAndGlyphs">dE</tspan> <tspan x="771.37" textLength="205.42" lengthAdjust="spacingAndGlyphs">2000:</tspan> <tspan x="995.79" textLength="156.15" lengthAdjust="spacingAndGlyphs">1.02</tspan></text>
<text y="1513.0" font-size="82" fill="#f0f0f0"><tspan x="1664.15" textLength="131.83" lengthAdjust="spacingAndGlyphs">Avg</tspan> <tspan x="1813.82" textLength="156.61" lengthAdjust="spacingAndGlyphs">CCT:</tspan> <tspan x="1989.67" textLength="181.02" lengthAdjust="spacingAndGlyphs">6304</tspan></text>
<text y="1513.0" font-size="82" fill="#f0f0f0"><tspan x="2583.45" textLength="288.61" lengthAdjust="spacingAndGlyphs">Average</tspan> <tspan x="2892.33" textLength="310.47" lengthAdjust="spacingAndGlyphs">Gamma:</tspan> <tspan x="3219.81" textLength="203.58" lengthAdjust="spacingAndGlyphs">2.217</tspan></text>
</g>
<g id="strip">
<rect x="315.60" y="1591.10" width="3202.40" height="217.10" fill="#000"/>
<rect x="351.20" y="1600.20" width="130.50" height="164.00" fill="#000000"/>
<rect x="351.20" y="1682.00" width="130.50" height="82.20" fill="#000000"/>
<rect x="352.45" y="1601.45" width="128.00" height="161.50" fill="none" stroke="#fff" stroke-width="2.5"/>
<text x="416.4" y="1792.1" font-size="24.5" text-anchor="middle" fill="#ffffff">0</text>
<rect x="502.40" y="1600.20" width="130.50" height="164.00" fill="#030303"/>
<rect x="502.40" y="1682.00" width="130.50" height="82.20" fill="#030303"/>
<rect x="503.65" y="1601.45" width="128.00" height="161.50" fill="none" stroke="#fff" stroke-width="2.5"/>
<text x="567.6" y="1792.1" font-size="24.5" text-anchor="middle" fill="#ffffff">5</text>
<rect x="653.60" y="1600.20" width="130.50" height="164.00" fill="#101010"/>
<rect x="653.60" y="1682.00" width="130.50" height="82.20" fill="#101010"/>
<rect x="654.85" y="1601.45" width="128.00" height="161.50" fill="none" stroke="#fff" stroke-width="2.5"/>
<text x="718.8" y="1792.1" font-size="24.5" text-anchor="middle" fill="#ffffff">10</text>
<rect x="804.80" y="1600.20" width="130.50" height="164.00" fill="#202020"/>
<rect x="804.80" y="1682.00" width="130.50" height="82.20" fill="#202020"/>
<rect x="806.05" y="1601.45" width="128.00" height="161.50" fill="none" stroke="#fff" stroke-width="2.5"/>
<text x="870.0" y="1792.1" font-size="24.5" text-anchor="middle" fill="#ffffff">15</text>
<rect x="956.00" y="1600.20" width="130.50" height="164.00" fill="#2e2e2e"/>
<rect x="956.00" y="1682.00" width="130.50" height="82.20" fill="#2e2e2e"/>
<rect x="957.25" y="1601.45" width="128.00" height="161.50" fill="none" stroke="#fff" stroke-width="2.5"/>
<text x="1021.2" y="1792.1" font-size="24.5" text-anchor="middle" fill="#ffffff">20</text>
<rect x="1107.20" y="1600.20" width="130.50" height="164.00" fill="#3f3f3f"/>
<rect x="1107.20" y="1682.00" width="130.50" height="82.20" fill="#3f3f3f"/>
<rect x="1108.45" y="1601.45" width="128.00" height="161.50" fill="none" stroke="#fff" stroke-width="2.5"/>
<text x="1172.5" y="1792.1" font-size="24.5" text-anchor="middle" fill="#ffffff">25</text>
<rect x="1258.40" y="1600.20" width="130.50" height="164.00" fill="#4d4b4c"/>
<rect x="1258.40" y="1682.00" width="130.50" height="82.20" fill="#4c4c4c"/>
<rect x="1259.65" y="1601.45" width="128.00" height="161.50" fill="none" stroke="#fff" stroke-width="2.5"/>
<text x="1323.6" y="1792.1" font-size="24.5" text-anchor="middle" fill="#ffffff">30</text>
<rect x="1409.60" y="1600.20" width="130.50" height="164.00" fill="#595959"/>
<rect x="1409.60" y="1682.00" width="130.50" height="82.20" fill="#595959"/>
<rect x="1410.85" y="1601.45" width="128.00" height="161.50" fill="none" stroke="#fff" stroke-width="2.5"/>
<text x="1474.8" y="1792.1" font-size="24.5" text-anchor="middle" fill="#ffffff">35</text>
<rect x="1560.80" y="1600.20" width="130.50" height="164.00" fill="#666666"/>
<rect x="1560.80" y="1682.00" width="130.50" height="82.20" fill="#666666"/>
<rect x="1562.05" y="1601.45" width="128.00" height="161.50" fill="none" stroke="#fff" stroke-width="2.5"/>
<text x="1626.0" y="1792.1" font-size="24.5" text-anchor="middle" fill="#ffffff">40</text>
<rect x="1712.00" y="1600.20" width="130.50" height="164.00" fill="#737373"/>
<rect x="1712.00" y="1682.00" width="130.50" height="82.20" fill="#737373"/>
<rect x="1713.25" y="1601.45" width="128.00" height="161.50" fill="none" stroke="#fff" stroke-width="2.5"/>
<text x="1777.2" y="1792.1" font-size="24.5" text-anchor="middle" fill="#ffffff">45</text>
<rect x="1863.20" y="1600.20" width="130.50" height="164.00" fill="#808080"/>
<rect x="1863.20" y="1682.00" width="130.50" height="82.20" fill="#808080"/>
<rect x="1864.45" y="1601.45" width="128.00" height="161.50" fill="none" stroke="#fff" stroke-width="2.5"/>
<text x="1928.5" y="1792.1" font-size="24.5" text-anchor="middle" fill="#ffffff">50</text>
<rect x="2014.40" y="1600.20" width="130.50" height="164.00" fill="#8c8c8c"/>
<rect x="2014.40" y="1682.00" width="130.50" height="82.20" fill="#8c8c8c"/>
<rect x="2015.65" y="1601.45" width="128.00" height="161.50" fill="none" stroke="#fff" stroke-width="2.5"/>
<text x="2079.6" y="1792.1" font-size="24.5" text-anchor="middle" fill="#ffffff">55</text>
<rect x="2165.60" y="1600.20" width="130.50" height="164.00" fill="#9c9999"/>
<rect x="2165.60" y="1682.00" width="130.50" height="82.20" fill="#999999"/>
<rect x="2166.85" y="1601.45" width="128.00" height="161.50" fill="none" stroke="#fff" stroke-width="2.5"/>
<text x="2230.8" y="1792.1" font-size="24.5" text-anchor="middle" fill="#ffffff">60</text>
<rect x="2316.80" y="1600.20" width="130.50" height="164.00" fill="#a9a5a4"/>
<rect x="2316.80" y="1682.00" width="130.50" height="82.20" fill="#a6a6a6"/>
<rect x="2318.05" y="1601.45" width="128.00" height="161.50" fill="none" stroke="#fff" stroke-width="2.5"/>
<text x="2382.0" y="1792.1" font-size="24.5" text-anchor="middle" fill="#ffffff">65</text>
<rect x="2468.00" y="1600.20" width="130.50" height="164.00" fill="#b6b2b1"/>
<rect x="2468.00" y="1682.00" width="130.50" height="82.20" fill="#b2b2b2"/>
<rect x="2469.25" y="1601.45" width="128.00" height="161.50" fill="none" stroke="#fff" stroke-width="2.5"/>
<text x="2533.2" y="1792.1" font-size="24.5" text-anchor="middle" fill="#ffffff">70</text>
<rect x="2619.20" y="1600.20" width="130.50" height="164.00" fill="#c4c0bf"/>
<rect x="2619.20" y="1682.00" width="130.50" height="82.20" fill="#bfbfbf"/>
<rect x="2620.45" y="1601.45" width="128.00" height="161.50" fill="none" stroke="#fff" stroke-width="2.5"/>
<text x="2684.4" y="1792.1" font-size="24.5" text-anchor="middle" fill="#ffffff">75</text>
<rect x="2770.40" y="1600.20" width="130.50" height="164.00" fill="#d2cecb"/>
<rect x="2770.40" y="1682.00" width="130.50" height="82.20" fill="#cccccc"/>
<rect x="2771.65" y="1601.45" width="128.00" height="161.50" fill="none" stroke="#fff" stroke-width="2.5"/>
<text x="2835.6" y="1792.1" font-size="24.5" text-anchor="middle" fill="#ffffff">80</text>
<rect x="2921.60" y="1600.20" width="130.50" height="164.00" fill="#dcd9d8"/>
<rect x="2921.60" y="1682.00" width="130.50" height="82.20" fill="#d9d9d9"/>
<rect x="2922.85" y="1601.45" width="128.00" height="161.50" fill="none" stroke="#fff" stroke-width="2.5"/>
<text x="2986.8" y="1792.1" font-size="24.5" text-anchor="middle" fill="#ffffff">85</text>
<rect x="3072.80" y="1600.20" width="130.50" height="164.00" fill="#ebe7e5"/>
<rect x="3072.80" y="1682.00" width="130.50" height="82.20" fill="#e6e6e6"/>
<rect x="3074.05" y="1601.45" width="128.00" height="161.50" fill="none" stroke="#fff" stroke-width="2.5"/>
<text x="3138.0" y="1792.1" font-size="24.5" text-anchor="middle" fill="#ffffff">90</text>
<rect x="3224.00" y="1600.20" width="130.50" height="164.00" fill="#f6f3f1"/>
<rect x="3224.00" y="1682.00" width="130.50" height="82.20" fill="#f2f2f2"/>
<rect x="3225.25" y="1601.45" width="128.00" height="161.50" fill="none" stroke="#fff" stroke-width="2.5"/>
<text x="3289.2" y="1792.1" font-size="24.5" text-anchor="middle" fill="#ffffff">95</text>
<rect x="3375.20" y="1600.20" width="130.50" height="164.00" fill="#fffefb"/>
<rect x="3375.20" y="1682.00" width="130.50" height="82.20" fill="#ffffff"/>
<rect x="3376.45" y="1601.45" width="128.00" height="161.50" fill="none" stroke="#fff" stroke-width="2.5"/>
<text x="3440.4" y="1792.1" font-size="24.5" text-anchor="middle" fill="#ffffff">100</text>
<text transform="translate(341.5,1670.7) rotate(-90)" font-size="24.5" fill="#fff">Actual</text>
<text transform="translate(341.5,1761.7) rotate(-90)" font-size="24.5" fill="#fff">Target</text>
</g>
<g id="logo">
<g transform="translate(109.3,2057.6) rotate(45)">
<path d="M-65.3,-65.3 L-11.2,-65.3 L-11.2,-56.4 L-56.4,-56.4 L-56.4,-11.2 L-65.3,-11.2Z" fill="#ffc708" stroke="#ffc708" stroke-width="13.0" stroke-linejoin="round"/>
<path d="M65.3,-65.3 L11.2,-65.3 L11.2,-56.4 L56.4,-56.4 L56.4,-11.2 L65.3,-11.2Z" fill="#00dc00" stroke="#00dc00" stroke-width="13.0" stroke-linejoin="round"/>
<path d="M65.3,65.3 L11.2,65.3 L11.2,56.4 L56.4,56.4 L56.4,11.2 L65.3,11.2Z" fill="#ee1558" stroke="#ee1558" stroke-width="13.0" stroke-linejoin="round"/>
<path d="M-65.3,65.3 L-11.2,65.3 L-11.2,56.4 L-56.4,56.4 L-56.4,11.2 L-65.3,11.2Z" fill="#4ac8f5" stroke="#4ac8f5" stroke-width="13.0" stroke-linejoin="round"/>
<rect x="-43.1" y="-43.1" width="38.8" height="38.8" rx="7.5" fill="#ffc708"/>
<rect x="4.3" y="-43.1" width="38.8" height="38.8" rx="7.5" fill="#00dc00"/>
<rect x="4.3" y="4.3" width="38.8" height="38.8" rx="7.5" fill="#ee1558"/>
<rect x="-43.1" y="4.3" width="38.8" height="38.8" rx="7.5" fill="#4ac8f5"/>
</g>
<text transform="scale(1.08,1)" x="208.94 301.49 423.92 469.99 637.14 766.41" y="2112.7" font-size="206.0" fill="#ffffff" stroke="#ffffff" stroke-width="2" stroke-linejoin="round">calman</text>
</g>
</svg>
</body></html>
